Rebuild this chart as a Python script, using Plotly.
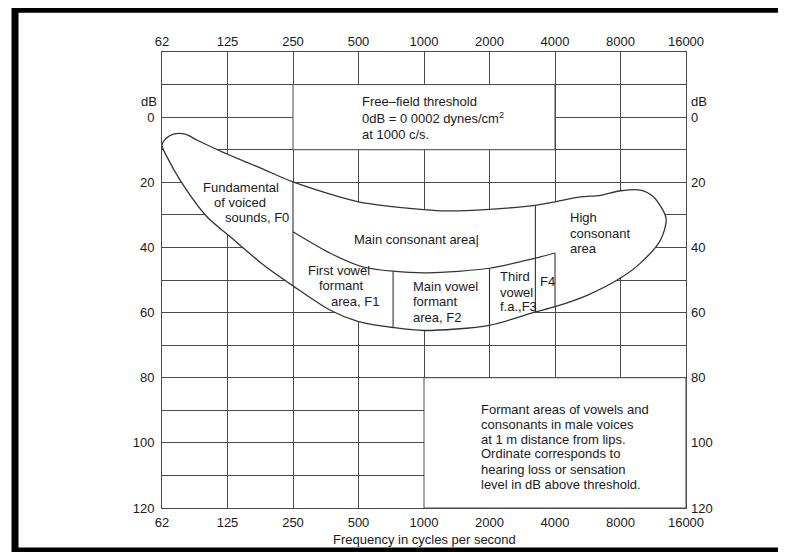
import math
import plotly.graph_objects as go

# ---------------- data ----------------
octave_ticks = [62.5, 125, 250, 500, 1000, 2000, 4000, 8000, 16000]
octave_labels = ["62", "125", "250", "500", "1000", "2000", "4000", "8000", "16000"]
db_ticks = list(range(-10, 121, 10))
db_labels = [str(v) if (v >= 0 and v % 20 == 0) else "" for v in db_ticks]

# outline of the speech area (upper edge left->right, then lower edge right->left)
outline_freq = [62.5, 65.4, 70.5, 80, 90.8, 115.8, 125, 180, 250, 500, 1000, 1280, 2000,
                3300, 4000, 5230, 6460, 8000, 9870, 11350, 12960, 12200, 9850, 8000,
                5620, 4000, 3250, 2000, 1000, 721, 500, 371, 250, 183, 129, 100.6, 75.8,
                65.9, 62.5]
outline_db = [8.6, 6.5, 5.2, 5.2, 7.1, 10.4, 11.4, 15.8, 19.9, 26.0, 28.4, 28.8, 28.3,
              27.0, 26.0, 24.5, 24.0, 22.6, 22.4, 24.5, 31.1, 37.8, 44.9, 49.4,
              54.7, 58.2, 59.8, 63.9, 65.5, 64.6, 62.8, 59.3, 51.8, 45.4, 36.8, 30.6, 19.4,
              12.2, 8.6]

# lower border of the main consonant area
consonant_freq = [250, 371, 525, 721, 1040, 2000, 3250, 4000]
consonant_db = [35.2, 41.8, 46.0, 47.3, 47.8, 46.4, 43.3, 41.7]

# vertical dividers: frequency, top dB, bottom dB
divider_freq = [250, 721, 2000, 3250, 4000]
divider_top_db = [19.9, 47.3, 46.4, 27.3, 41.7]
divider_bottom_db = [51.8, 64.6, 63.9, 59.8, 58.2]

# blank boxes holding the notes
threshold_box_freq = [250, 4000]
threshold_box_db = [-10, 10]
note_box_freq = [1000, 16000]
note_box_db = [80, 120]

# ---------------- figure ----------------
GRID = "#4a4a4a"
TXT = "#1a1a1a"
FONT = "Liberation Sans, Arial, sans-serif"

fig = go.Figure()


def box_trace(fr, db):
    return go.Scatter(
        x=[fr[0], fr[1], fr[1], fr[0], fr[0]],
        y=[db[0], db[0], db[1], db[1], db[0]],
        mode="lines", fill="toself", fillcolor="white",
        line=dict(color=GRID, width=1), hoverinfo="skip", showlegend=False)


fig.add_trace(box_trace(threshold_box_freq, threshold_box_db))
fig.add_trace(box_trace(note_box_freq, note_box_db))

fig.add_trace(go.Scatter(
    x=outline_freq, y=outline_db, mode="lines", fill="toself", fillcolor="white",
    line=dict(color="#333333", width=1.3, shape="spline", smoothing=0.8),
    hoverinfo="skip", showlegend=False))

fig.add_trace(go.Scatter(
    x=consonant_freq, y=consonant_db, mode="lines",
    line=dict(color="#333333", width=1.2, shape="spline", smoothing=0.8),
    hoverinfo="skip", showlegend=False))

for f, t, b in zip(divider_freq, divider_top_db, divider_bottom_db):
    fig.add_trace(go.Scatter(
        x=[f, f], y=[t, b], mode="lines",
        line=dict(color="#333333", width=1.1),
        hoverinfo="skip", showlegend=False))

# invisible trace for the mirrored (top / right) axes
fig.add_trace(go.Scatter(x=[1000], y=[50], xaxis="x2", yaxis="y2", mode="markers",
                         marker=dict(opacity=0), hoverinfo="skip", showlegend=False))

xr = [math.log10(62.5), math.log10(16000)]
yr = [120, -20]

fig.update_layout(
    width=778, height=544,
    margin=dict(l=154, r=100, t=44, b=44),
    paper_bgcolor="white", plot_bgcolor="white",
    font=dict(family=FONT, size=13, color=TXT),
    xaxis=dict(type="log", range=xr, tickvals=octave_ticks, ticktext=octave_labels,
               showgrid=True, gridcolor=GRID, gridwidth=1, zeroline=False,
               showline=True, linecolor=GRID, linewidth=1, mirror=True,
               ticks="", ticklabelstandoff=2, tickfont=dict(size=13, color=TXT)),
    yaxis=dict(range=yr, tickvals=db_ticks, ticktext=db_labels,
               showgrid=True, gridcolor=GRID, gridwidth=1, zeroline=False,
               showline=True, linecolor=GRID, linewidth=1, mirror=True,
               ticks="", ticklabelstandoff=4, tickfont=dict(size=13, color=TXT)),
    xaxis2=dict(type="log", range=xr, tickvals=octave_ticks, ticktext=octave_labels,
                overlaying="x", side="top", anchor="y", showgrid=False, zeroline=False,
                showline=False, ticks="", ticklabelstandoff=2,
                tickfont=dict(size=13, color=TXT)),
    yaxis2=dict(range=yr, tickvals=db_ticks, ticktext=db_labels,
                overlaying="y", side="right", anchor="x", showgrid=False, zeroline=False,
                showline=False, ticks="", ticklabelstandoff=4,
                tickfont=dict(size=13, color=TXT)),
    showlegend=False,
)


def lines_at(lines, freq, dbs):
    for txt, d in zip(lines, dbs):
        fig.add_annotation(x=math.log10(freq), y=d, xref="x", yref="y", text=txt,
                           xanchor="left", yanchor="middle", showarrow=False,
                           font=dict(size=13, color=TXT, family=FONT))


lines_at(["Fundamental"], 94.7, [21.6])
lines_at(["of voiced"], 106.4, [26.2])
lines_at(["sounds, F0"], 119.6, [30.9])
lines_at(["Main consonant area|"], 468, [37.5])
lines_at(["First vowel"], 288, [47.0])
lines_at(["formant"], 323.7, [51.8])
lines_at(["area, F1"], 367, [56.7])
lines_at(["Main vowel", "formant", "area, F2"], 874, [51.9, 56.5, 61.4])
lines_at(["Third", "vowel", "f.a.,F3"], 2190, [49.0, 53.7, 58.2])
lines_at(["F4"], 3350, [50.6])
lines_at(["High", "consonant", "area"], 4600, [30.9, 35.7, 40.3])
lines_at(["Free\u2013field threshold", "0dB = 0 0002 dynes/cm<sup>2</sup>", "at 1000 c/s."],
         510, [-4.7, 0.4, 5.2])
lines_at(["Formant areas of vowels and", "consonants in male voices",
          "at 1 m distance from lips.", "Ordinate corresponds to",
          "hearing loss or sensation", "level in dB above threshold."],
         1782, [89.7, 94.3, 98.9, 103.4, 108.1, 112.9])

# dB unit labels
fig.add_annotation(x=-0.006, y=-4.7, xref="paper", yref="y", text="dB", xanchor="right",
                   yanchor="middle", showarrow=False, font=dict(size=13, color=TXT))
fig.add_annotation(x=1.006, y=-4.7, xref="paper", yref="y", text="dB", xanchor="left",
                   yanchor="middle", showarrow=False, font=dict(size=13, color=TXT))

# axis title
fig.add_annotation(x=0.5, y=-0.068, xref="paper", yref="paper",
                   text="Frequency in cycles per second", xanchor="center",
                   yanchor="middle", showarrow=False, font=dict(size=13, color=TXT))

# black page frame
fig.add_shape(type="rect", xref="paper", yref="paper", x0=-0.2805, x1=1.5,
              y0=-0.0943, y1=1.094, line=dict(color="black", width=7),
              fillcolor="rgba(0,0,0,0)", layer="above")

fig.write_html("out.html")
